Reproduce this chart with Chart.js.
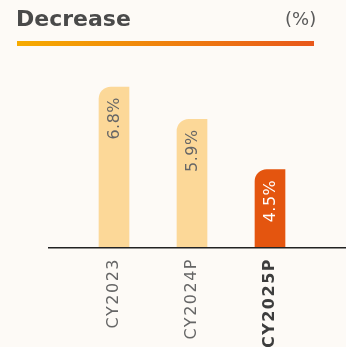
<!DOCTYPE html>
<html>
<head>
<meta charset="utf-8">
<script src="https://cdn.jsdelivr.net/npm/chart.js@4"></script>
<style>
  html, body { margin: 0; padding: 0; background: #fdfaf6; }
  #wrap { position: relative; width: 346px; height: 347px; overflow: hidden; background: #fdfaf6; }
  #chart { position: absolute; left: 0; top: 0; }
  .title { position: absolute; left: 16px; top: 6px; font-family: "DejaVu Sans", sans-serif; font-weight: bold; font-size: 22px; color: #4a4a4a; }
  .unit { position: absolute; left: 285px; top: 8px; font-family: "DejaVu Sans", sans-serif; font-size: 18px; color: #5a5a5a; }
  .rule { position: absolute; left: 17px; top: 41px; width: 297px; height: 5px; background: linear-gradient(to right, #f6ab00, #e8571a); }
</style>
</head>
<body>
<div id="wrap">
  <canvas id="chart" width="346" height="347"></canvas>
  <div class="title">Decrease</div>
  <div class="unit">(%)</div>
  <div class="rule"></div>
</div>
<script>
const categories = ["CY2023", "CY2024P", "CY2025P"];
const values = [6.8, 5.9, 4.5];
const valueLabels = ["6.8%", "5.9%", "4.5%"];
const barColors = ["#fcd898", "#fcd898", "#e4550f"];
const labelColors = ["#666666", "#666666", "#ffffff"];

// Wider tracking for the category labels
const tracking = {
  id: "tracking",
  beforeDraw(chart) { chart.ctx.letterSpacing = "1.5px"; },
  afterDraw(chart) { chart.ctx.letterSpacing = "0px"; }
};

// Baseline that runs past the plotted categories
const baseline = {
  id: "baseline",
  afterDatasetsDraw(chart) {
    const { ctx, chartArea } = chart;
    ctx.save();
    ctx.strokeStyle = "#222222";
    ctx.lineWidth = 1.5;
    ctx.beginPath();
    ctx.moveTo(48, chartArea.bottom + 0.75);
    ctx.lineTo(chart.width, chartArea.bottom + 0.75);
    ctx.stroke();
    ctx.restore();
  }
};

// Vertical value labels inside the top of each bar
const valueText = {
  id: "valueText",
  afterDatasetsDraw(chart) {
    const { ctx } = chart;
    const meta = chart.getDatasetMeta(0);
    ctx.save();
    ctx.letterSpacing = "0.5px";
    ctx.font = "16px 'DejaVu Sans', sans-serif";
    meta.data.forEach((bar, i) => {
      ctx.save();
      ctx.translate(bar.x, bar.y + 10);
      ctx.rotate(-Math.PI / 2);
      ctx.textAlign = "right";
      ctx.textBaseline = "middle";
      ctx.fillStyle = labelColors[i];
      ctx.fillText(valueLabels[i], 0, 1);
      ctx.restore();
    });
    ctx.restore();
  }
};

new Chart(document.getElementById("chart"), {
  type: "bar",
  data: {
    labels: categories,
    datasets: [{
      data: values,
      backgroundColor: barColors,
      barThickness: 30,
      borderRadius: { topLeft: 12, topRight: 0, bottomLeft: 0, bottomRight: 0 },
      borderSkipped: "start"
    }]
  },
  options: {
    responsive: false,
    devicePixelRatio: 1,
    animation: false,
    layout: { padding: { left: 75, right: 37, top: 60, bottom: 0 } },
    plugins: { legend: { display: false }, tooltip: { enabled: false } },
    scales: {
      x: {
        grid: { display: false, drawTicks: false },
        border: { display: false },
        afterFit(scale) { scale.height = 100; },
        ticks: {
          padding: 11,
          minRotation: 90,
          maxRotation: 90,
          autoSkip: false,
          color: (c) => (c.index === 2 ? "#3d3d3d" : "#666666"),
          font: (c) => ({ family: "'DejaVu Sans', sans-serif", size: 16, weight: c.index === 2 ? "bold" : "normal" })
        }
      },
      y: {
        display: false,
        min: 2.35,
        max: 7.55
      }
    }
  },
  plugins: [tracking, baseline, valueText]
});
</script>
</body>
</html>
